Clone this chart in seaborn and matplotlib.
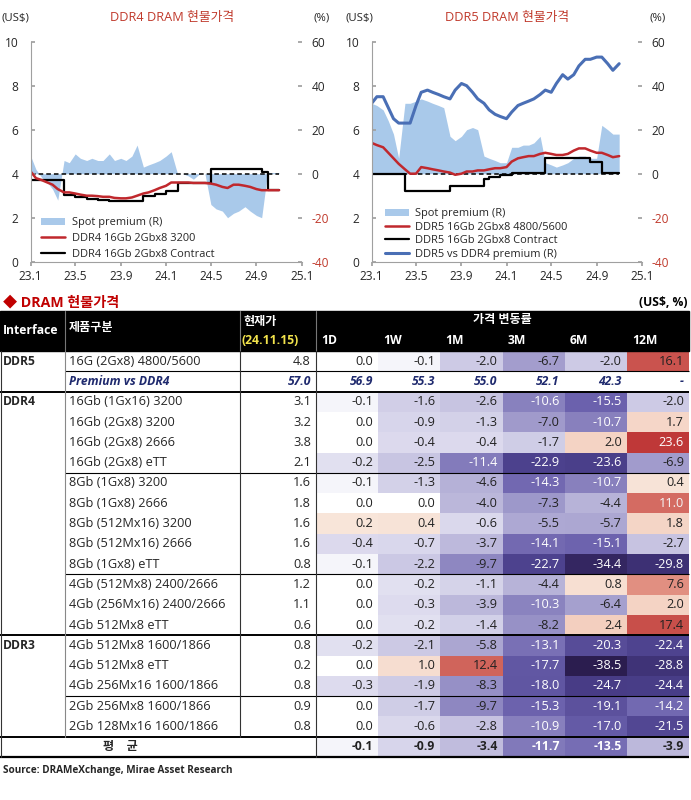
import numpy as np
import pandas as pd
import matplotlib
matplotlib.use("Agg")
import matplotlib.pyplot as plt
from matplotlib.colors import LinearSegmentedColormap, TwoSlopeNorm
from matplotlib.lines import Line2D
from matplotlib.patches import Patch, Rectangle
import seaborn as sns

# ---------------- chart data (semi-monthly, 23.1 ~ 24.11) ----------------
dates = pd.date_range("2023-01-01", "2024-11-01", freq="SMS")

ddr4_spot = [4.1, 3.8, 3.7, 3.6, 3.5, 3.3, 3.15, 3.15, 3.1, 3.05,
             3.0, 3.0, 2.98, 2.95, 2.95, 2.9, 2.88, 2.88, 2.92, 3.0,
             3.1, 3.15, 3.25, 3.35, 3.45, 3.6, 3.6, 3.6, 3.6, 3.58,
             3.58, 3.58, 3.55, 3.5, 3.4, 3.35, 3.5, 3.5, 3.45, 3.4,
             3.3, 3.25, 3.25, 3.25, 3.25]
ddr4_contract = [3.7, 3.7, 3.7, 3.7, 3.7, 3.7, 3.05, 3.05, 2.95, 2.95,
                 2.85, 2.85, 2.8, 2.8, 2.75, 2.75, 2.75, 2.75, 2.75, 2.75,
                 3.0, 3.0, 3.1, 3.1, 3.2, 3.2, 3.6, 3.6, 3.6, 3.6,
                 3.6, 3.6, 4.2, 4.2, 4.2, 4.2, 4.2, 4.2, 4.2, 4.2,
                 4.2, 4.1, 3.25, 3.25, 3.25]
ddr4_prem = [8, 2, -2, -4, -7, -12, 6, 5, 9, 7,
             6, 7, 6, 6, 9, 6, 7, 6, 8, 13,
             3, 4, 5, 6, 8, 10, 0, 0, -1, -2.5,
             0, 0, -14, -16, -17, -20, -18, -17, -15, -17,
             -19, -20, 0.5, 0.5, 0.5]

ddr5_spot = [5.4, 5.3, 5.2, 4.95, 4.7, 4.45, 4.2, 4.0, 4.0, 4.3,
             4.25, 4.2, 4.15, 4.1, 4.05, 3.95, 4.0, 4.1, 4.1, 4.15,
             4.15, 4.2, 4.25, 4.25, 4.3, 4.55, 4.7, 4.75, 4.8, 4.8,
             4.9, 4.95, 4.9, 4.85, 4.85, 4.9, 5.05, 5.15, 5.15, 5.05,
             4.95, 4.95, 4.85, 4.75, 4.8]
ddr5_contract = [4.0, 4.0, 4.0, 4.0, 4.0, 4.0, 3.2, 3.2, 3.2, 3.2,
                 3.2, 3.2, 3.2, 3.2, 3.45, 3.45, 3.45, 3.45, 3.45, 3.45,
                 3.75, 3.85, 3.85, 3.95, 3.95, 4.05, 4.05, 4.05, 4.05, 4.05,
                 4.05, 4.7, 4.7, 4.7, 4.7, 4.7, 4.7, 4.7, 4.7, 4.55,
                 4.55, 4.05, 4.05, 4.05, 4.05]
ddr5_prem = [32, 31, 29, 24, 18, 7, 32, 32, 33, 34,
             33, 32, 31, 30, 17, 15, 17, 20, 21, 20,
             8, 7, 6, 5, 5, 12, 12, 13, 13, 14,
             17, 5, 4, 3, 4, 5, 7, 8, 8, 7,
             7, 22, 20, 18, 18]
ddr5_vs_ddr4 = [32, 35, 35, 30, 25, 23, 23, 23, 31, 37,
                38, 37, 36, 35, 34, 38, 41, 40, 37, 34,
                32, 29, 27, 26, 25, 28, 31, 32, 33, 34,
                36, 38, 37, 41, 45, 43, 45, 49, 52, 52,
                53, 53, 50, 47, 50]

x_ticks = ["2023-01-01", "2023-05-01", "2023-09-01", "2024-01-01",
           "2024-05-01", "2024-09-01", "2025-01-01"]
x_labels = ["23.1", "23.5", "23.9", "24.1", "24.5", "24.9", "25.1"]

# ---------------- table data ----------------
interfaces = ["DDR5", "", "DDR4", "", "", "", "", "", "", "", "", "", "", "",
              "DDR3", "", "", "", "", ""]
products = ["16G (2Gx8) 4800/5600", "Premium vs DDR4",
            "16Gb (1Gx16) 3200", "16Gb (2Gx8) 3200", "16Gb (2Gx8) 2666",
            "16Gb (2Gx8) eTT", "8Gb (1Gx8) 3200", "8Gb (1Gx8) 2666",
            "8Gb (512Mx16) 3200", "8Gb (512Mx16) 2666", "8Gb (1Gx8) eTT",
            "4Gb (512Mx8) 2400/2666", "4Gb (256Mx16) 2400/2666", "4Gb 512Mx8 eTT",
            "4Gb 512Mx8 1600/1866", "4Gb 512Mx8 eTT", "4Gb 256Mx16 1600/1866",
            "2Gb 256Mx8 1600/1866", "2Gb 128Mx16 1600/1866", "평    균"]
price = [4.8, 57.0, 3.1, 3.2, 3.8, 2.1, 1.6, 1.8, 1.6, 1.6, 0.8, 1.2, 1.1,
         0.6, 0.8, 0.2, 0.8, 0.9, 0.8, None]
periods = ["1D", "1W", "1M", "3M", "6M", "12M"]
premium_row = ["56.9", "55.3", "55.0", "52.1", "42.3", "-"]
chg_1d = [0.0, None, -0.1, 0.0, 0.0, -0.2, -0.1, 0.0, 0.2, -0.4, -0.1, 0.0,
          0.0, 0.0, -0.2, 0.0, -0.3, 0.0, 0.0, -0.1]
chg_1w = [-0.1, None, -1.6, -0.9, -0.4, -2.5, -1.3, 0.0, 0.4, -0.7, -2.2, -0.2,
          -0.3, -0.2, -2.1, 1.0, -1.9, -1.7, -0.6, -0.9]
chg_1m = [-2.0, None, -2.6, -1.3, -0.4, -11.4, -4.6, -4.0, -0.6, -3.7, -9.7,
          -1.1, -3.9, -1.4, -5.8, 12.4, -8.3, -9.7, -2.8, -3.4]
chg_3m = [-6.7, None, -10.6, -7.0, -1.7, -22.9, -14.3, -7.3, -5.5, -14.1,
          -22.7, -4.4, -10.3, -8.2, -13.1, -17.7, -18.0, -15.3, -10.9, -11.7]
chg_6m = [-2.0, None, -15.5, -10.7, 2.0, -23.6, -10.7, -4.4, -5.7, -15.1,
          -34.4, 0.8, -6.4, 2.4, -20.3, -38.5, -24.7, -19.1, -17.0, -13.5]
chg_12m = [16.1, None, -2.0, 1.7, 23.6, -6.9, 0.4, 11.0, 1.8, -2.7, -29.8,
           7.6, 2.0, 17.4, -22.4, -28.8, -24.4, -14.2, -21.5, -3.9]

# ---------------- style ----------------
sns.set_theme(style="white")
plt.rcParams["font.family"] = ["Open Sans", "Noto Sans CJK KR", "DejaVu Sans"]

W, H = 691, 800
RED = "#c0282d"
BLUE = "#4a6fb5"
AREA = "#a9c9ea"
TITLE_RED = "#c0392b"
NAVY = "#1f2a6e"
TICK_FS = 8.6
LEG_FS = 7.9

fig = plt.figure(figsize=(W / 100, H / 100), dpi=100)


def px_axes(x0, y0, x1, y1):
    return fig.add_axes([x0 / W, 1 - y1 / H, (x1 - x0) / W, (y1 - y0) / H])


def style_chart(ax, ax2):
    ax.set_xlim(pd.Timestamp("2023-01-01"), pd.Timestamp("2025-01-01"))
    ax.set_ylim(0, 10)
    ax2.set_ylim(-40, 60)
    ax.set_xticks(pd.to_datetime(x_ticks))
    ax.set_xticklabels(x_labels)
    ax.set_yticks([0, 2, 4, 6, 8, 10])
    ax2.set_yticks([-40, -20, 0, 20, 40, 60])
    ax2.set_yticklabels(["-40", "-20", "0", "20", "40", "60"])
    for lab in ax2.get_yticklabels():
        if lab.get_text().startswith("-"):
            lab.set_color(TITLE_RED)
    ax.set_xlabel("")
    ax.set_ylabel("")
    ax2.set_ylabel("")
    for s in ["top", "right"]:
        ax.spines[s].set_visible(False)
    for s in ["left", "bottom"]:
        ax.spines[s].set_color("#a0a0a0")
        ax.spines[s].set_linewidth(0.8)
    for s in ax2.spines.values():
        s.set_visible(False)
    ax.tick_params(axis="y", direction="in", length=3, color="#a0a0a0",
                   labelsize=TICK_FS, pad=9, left=True)
    ax.tick_params(axis="x", direction="out", length=3, color="#a0a0a0",
                   labelsize=TICK_FS, pad=3, bottom=True)
    ax2.tick_params(axis="y", direction="in", length=3, color="#a0a0a0",
                    labelsize=TICK_FS, pad=7, right=True)
    ax.set_zorder(ax2.get_zorder() + 1)
    ax.patch.set_visible(False)


# ---------------- DDR4 chart ----------------
ax = px_axes(30.7, 41.7, 301.7, 261.7)
ax2 = ax.twinx()
ax2.fill_between(dates, 0, ddr4_prem, color=AREA, lw=0)
ax2.hlines(0, dates[0], dates[-1], colors="black", linestyles=(0, (3, 2)), lw=1.1)
sns.lineplot(x=dates, y=ddr4_contract, ax=ax, color="black", lw=1.6,
             drawstyle="steps-post")
sns.lineplot(x=dates, y=ddr4_spot, ax=ax, color=RED, lw=1.8)
style_chart(ax, ax2)
h = [Patch(color=AREA, lw=0), Line2D([], [], color=RED, lw=1.8),
     Line2D([], [], color="black", lw=1.6)]
ax.legend(h, ["Spot premium (R)", "DDR4 16Gb 2Gbx8 3200", "DDR4 16Gb 2Gbx8 Contract"],
          loc="lower left", bbox_to_anchor=(0.03, 0.0), frameon=False,
          fontsize=LEG_FS, handlelength=2.2, handletextpad=0.6, labelspacing=0.42,
          borderaxespad=0.0, borderpad=0.2)

# ---------------- DDR5 chart ----------------
bx = px_axes(371.7, 41.7, 641.7, 261.7)
bx2 = bx.twinx()
bx2.fill_between(dates, 0, ddr5_prem, color=AREA, lw=0)
bx2.hlines(0, dates[0], dates[-1], colors="black", linestyles=(0, (3, 2)), lw=1.1)
sns.lineplot(x=dates, y=ddr5_vs_ddr4, ax=bx2, color=BLUE, lw=2.2)
sns.lineplot(x=dates, y=ddr5_contract, ax=bx, color="black", lw=1.6,
             drawstyle="steps-post")
sns.lineplot(x=dates, y=ddr5_spot, ax=bx, color=RED, lw=1.8)
style_chart(bx, bx2)
h = [Patch(color=AREA, lw=0), Line2D([], [], color=RED, lw=1.8),
     Line2D([], [], color="black", lw=1.6), Line2D([], [], color=BLUE, lw=2.2)]
bx.legend(h, ["Spot premium (R)", "DDR5 16Gb 2Gbx8 4800/5600",
              "DDR5 16Gb 2Gbx8 Contract", "DDR5 vs DDR4 premium (R)"],
          loc="lower left", bbox_to_anchor=(0.04, 0.0), frameon=False,
          fontsize=LEG_FS, handlelength=2.2, handletextpad=0.6, labelspacing=0.22,
          borderaxespad=0.0, borderpad=0.2)

fig.text(172 / W, 1 - 18 / H, "DDR4 DRAM 현물가격", color=TITLE_RED, fontsize=9.2,
         ha="center", va="center")
fig.text(507 / W, 1 - 18 / H, "DDR5 DRAM 현물가격", color=TITLE_RED, fontsize=9.2,
         ha="center", va="center")
for xl, txt in [(2, "(US$)"), (313, "(%)"), (346, "(US$)"), (650, "(%)")]:
    fig.text(xl / W, 1 - 18 / H, txt, fontsize=8.2, ha="left", va="center")

# ---------------- table heatmap ----------------
ROW0, ROWH = 351.0, 20.3
COL0, COLW = 316.0, 62.17
n_rows = len(products)
heat = pd.DataFrame({"1D": chg_1d, "1W": chg_1w, "1M": chg_1m, "3M": chg_3m,
                     "6M": chg_6m, "12M": chg_12m}, dtype=float)
cmap = LinearSegmentedColormap.from_list("dram", [
    (0.0, "#2b1d4f"), (0.1, "#3b2e70"), (0.2, "#4b408c"), (0.3, "#6b61ad"),
    (0.4, "#9a94c8"), (0.45, "#bcb8db"), (0.497, "#dddbee"), (0.4995, "#ffffff"),
    (0.5005, "#ffffff"), (0.503, "#f8e6da"), (0.6, "#eeb8a4"), (0.7, "#d8746a"),
    (0.8, "#cc5a53"), (0.9, "#c64a46"), (1.0, "#bf3838")], N=2048)
norm = TwoSlopeNorm(vmin=-38.5, vcenter=0, vmax=23.6)
hx = px_axes(COL0, ROW0, COL0 + 6 * COLW, ROW0 + n_rows * ROWH)
sns.heatmap(heat, ax=hx, cmap=cmap, norm=norm, cbar=False,
            xticklabels=False, yticklabels=False)
hx.set_xlabel("")
hx.set_ylabel("")

# ---------------- table chrome & text ----------------
tab = fig.add_axes([0, 0, 1, 1])
tab.set_xlim(0, W)
tab.set_ylim(H, 0)
tab.axis("off")

FS = 9.2      # body text
HFS = 8.7     # header / bold text
tab.text(3, 302, "◆ DRAM 현물가격", color="#c00000", fontsize=10.2,
         fontweight="bold", ha="left", va="center")
tab.text(688, 302, "(US$, %)", color="black", fontsize=8.7, fontweight="bold",
         ha="right", va="center")

tab.add_patch(Rectangle((0, 311), 689, ROW0 - 311, color="black"))
for xv in [65, 240, 316]:
    tab.plot([xv, xv], [311, ROW0], color="#777777", lw=0.8)
tab.text(3, 330, "Interface", color="white", fontsize=HFS, fontweight="bold",
         ha="left", va="center")
tab.text(69, 328, "제품구분", color="white", fontsize=HFS, fontweight="bold",
         ha="left", va="center")
tab.text(244, 321, "현재가", color="white", fontsize=HFS, fontweight="bold",
         ha="left", va="center")
tab.text(242, 341, "(24.11.15)", color="#f2e34c", fontsize=HFS, fontweight="bold",
         ha="left", va="center")
tab.text(502, 320, "가격 변동률", color="white", fontsize=HFS, fontweight="bold",
         ha="center", va="center")
for j, p in enumerate(periods):
    tab.text(COL0 + 5 + j * COLW, 341, p, color="white", fontsize=HFS,
             fontweight="bold", ha="left", va="center")

for i in range(n_rows):
    yc = ROW0 + ROWH * (i + 0.5)
    if interfaces[i]:
        tab.text(3, yc, interfaces[i], fontsize=HFS, fontweight="bold",
                 ha="left", va="center")
    if i == 1:
        tab.text(69, yc, products[i], fontsize=HFS, fontweight="bold",
                 style="italic", color=NAVY, ha="left", va="center")
        tab.text(311, yc, f"{price[i]:.1f}", fontsize=HFS, fontweight="bold",
                 style="italic", color=NAVY, ha="right", va="center")
        for j, v in enumerate(premium_row):
            tab.text(COL0 + (j + 1) * COLW - 5, yc, v, fontsize=HFS,
                     fontweight="bold", style="italic", color=NAVY,
                     ha="right", va="center")
        continue
    if i == n_rows - 1:
        tab.text(120, yc, products[i], fontsize=HFS, fontweight="bold",
                 ha="center", va="center")
    else:
        tab.text(69, yc, products[i], fontsize=FS, ha="left", va="center")
        tab.text(311, yc, f"{price[i]:.1f}", fontsize=FS, ha="right", va="center")
    for j, p in enumerate(periods):
        v = heat[p].iloc[i]
        tc = "white" if (v <= -10 or v >= 20) else "#222222"
        if 10.5 <= v <= 11.5:
            tc = "#f4f4f4"
        last = i == n_rows - 1
        tab.text(COL0 + (j + 1) * COLW - 5, yc, f"{v:.1f}",
                 fontsize=HFS if last else FS, color=tc,
                 fontweight="bold" if last else "normal",
                 ha="right", va="center")


# horizontal rules
def hline(row, x0, lw):
    y = ROW0 + ROWH * row
    tab.plot([x0, 689], [y, y], color="black", lw=lw, solid_capstyle="butt")


hline(1, 65, 0.8)
hline(2, 0, 1.4)
hline(6, 65, 0.8)
hline(11, 65, 0.8)
hline(14, 0, 1.4)
hline(17, 65, 0.8)
hline(19, 0, 1.4)
hline(20, 0, 1.6)
ybot_names = ROW0 + ROWH * 19
tab.plot([65, 65], [ROW0, ybot_names], color="#888888", lw=0.8)
tab.plot([240, 240], [ROW0, ybot_names], color="#333333", lw=0.8)
tab.plot([316, 316], [ROW0, ROW0 + ROWH * 20], color="#333333", lw=0.8)
tab.plot([1, 1], [ROW0, ROW0 + ROWH * 20], color="#333333", lw=0.8)

tab.text(3, 771, "Source: DRAMeXchange, Mirae Asset Research", fontsize=7.2,
         fontweight="bold", ha="left", va="center")

fig.savefig("out.png", dpi=100)
